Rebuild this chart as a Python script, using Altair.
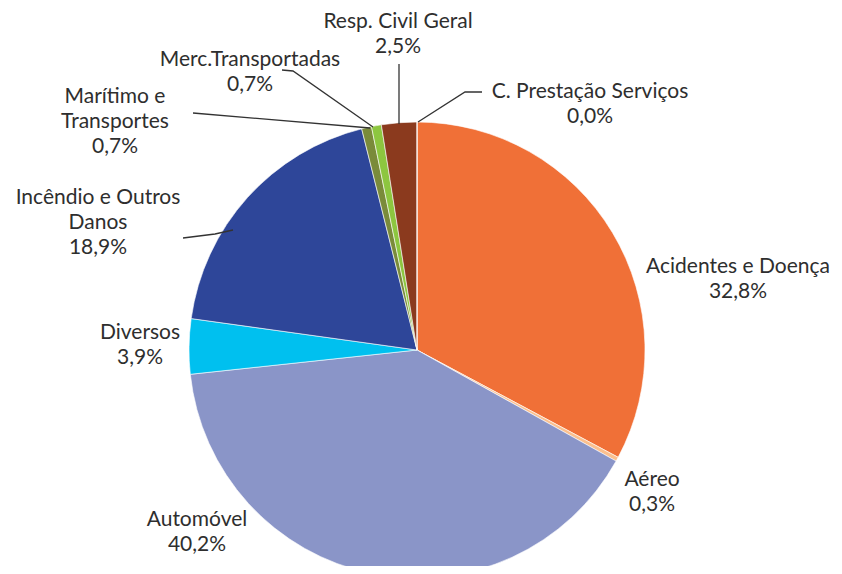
import altair as alt
import pandas as pd

# ---- data ----
categories = ["Acidentes e Doença", "Aéreo", "Automóvel", "Diversos",
              "Incêndio e Outros Danos", "Marítimo e Transportes",
              "Merc.Transportadas", "Resp. Civil Geral", "C. Prestação Serviços"]
values = [32.8, 0.3, 40.2, 3.9, 18.9, 0.7, 0.7, 2.5, 0.0]
name_lines = [["Acidentes e Doença"], ["Aéreo"], ["Automóvel"], ["Diversos"],
              ["Incêndio e Outros", "Danos"], ["Marítimo e", "Transportes"],
              ["Merc.Transportadas"], ["Resp. Civil Geral"], ["C. Prestação Serviços"]]
colors = ["#F07037", "#FBC08F", "#8A95C8", "#00C0EF", "#2E4699",
          "#7A8B3A", "#8DC63F", "#8B3A1E", "#C0504D"]

# ---- layout (pixel positions of labels and leader lines) ----
CX, CY, R = 409, 342, 228
label_pos = [(730, 259), (644, 472), (189, 512), (132, 325), (90, 190),
             (107, 89), (242, 52), (390, 14), (582, 84)]
LINE_STEP = 25
leaders = {
    "Incêndio e Outros Danos": [(175, 230), (207, 226), (225, 222)],
    "Marítimo e Transportes": [(185, 105), (362, 120)],
    "Merc.Transportadas": [(274, 62), (285, 63), (365, 119)],
    "Resp. Civil Geral": [(391, 56), (391, 116)],
    "C. Prestação Serviços": [(474, 84), (457, 84), (410, 114)],
}

pie_df = pd.DataFrame({"cat": categories, "value": values,
                       "order": list(range(len(categories)))})

rows = []
for cat, val, lines, (lx, ly) in zip(categories, values, name_lines, label_pos):
    pct = f"{val:.1f}".replace(".", ",") + "%"
    for i, t in enumerate(lines + [pct]):
        rows.append({"text": t, "x": lx, "y": ly + i * LINE_STEP})
text_df = pd.DataFrame(rows)

lrows = []
for cat, pts in leaders.items():
    for i, (px, py) in enumerate(pts):
        lrows.append({"cat": cat, "i": i, "x": px, "y": py})
lead_df = pd.DataFrame(lrows)

pie = alt.Chart(pie_df).mark_arc(radius=R, stroke="white", strokeWidth=0.6).encode(
    theta=alt.Theta("value:Q", stack=True),
    color=alt.Color("cat:N", scale=alt.Scale(domain=categories, range=colors), legend=None),
    order=alt.Order("order:Q"),
    x=alt.value(CX),
    y=alt.value(CY),
)

lines_layer = alt.Chart(lead_df).mark_line(color="#333333", strokeWidth=1.3).encode(
    x=alt.X("x:Q", scale=None),
    y=alt.Y("y:Q", scale=None),
    detail="cat:N",
    order="i:Q",
)

labels = alt.Chart(text_df).mark_text(
    font="Lato", fontSize=21, color="#2e2e2e", align="center", baseline="middle"
).encode(
    x=alt.X("x:Q", scale=None),
    y=alt.Y("y:Q", scale=None),
    text="text:N",
)

chart = alt.layer(pie, lines_layer, labels).properties(
    width=826, height=558, padding=0, autosize=alt.AutoSizeParams(type="none")
).configure_view(stroke=None)

chart.save("out.html", embed_options={"renderer": "svg", "actions": False})
